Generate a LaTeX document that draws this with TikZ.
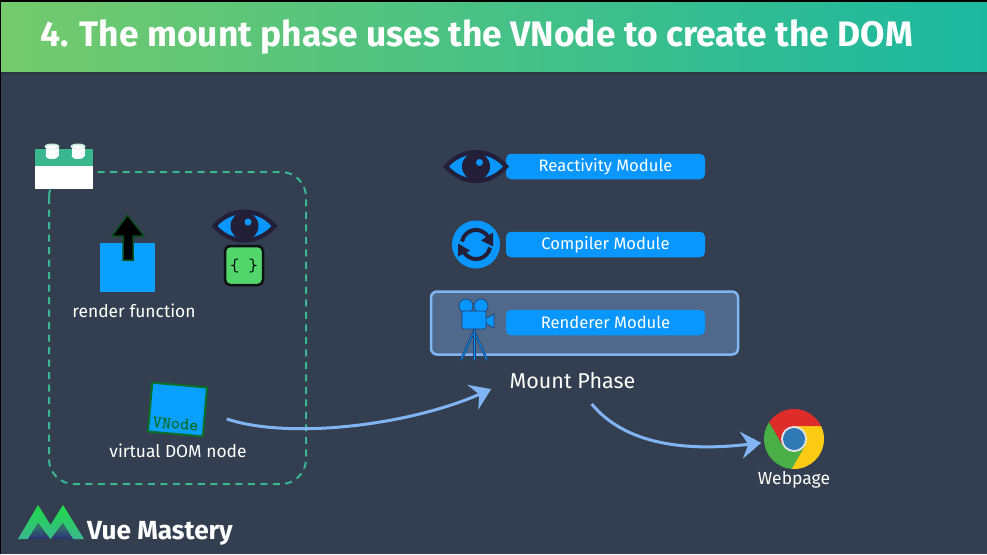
\documentclass[tikz,border=0pt]{standalone}
\usepackage{fontspec}
\setmainfont{Fira Sans}
\usetikzlibrary{positioning,arrows.meta}
\definecolor{slate}{HTML}{333F50}
\definecolor{headleft}{HTML}{74CA6C}
\definecolor{headright}{HTML}{1BB8A0}
\definecolor{blockgreen}{HTML}{3BB78F}
\definecolor{modblue}{HTML}{0A96FF}
\definecolor{inkdark}{HTML}{231F38}
\definecolor{sketchblue}{HTML}{80B4F2}
\definecolor{panelfill}{HTML}{50688A}
\definecolor{leaf}{HTML}{52D66C}
\definecolor{vgreen}{HTML}{0B6F2A}
\definecolor{chromered}{HTML}{DD2C2A}
\definecolor{chromeyellow}{HTML}{FDCB13}
\definecolor{chromegreen}{HTML}{4BAF47}
\definecolor{chromeblue}{HTML}{2F7AB5}

\tikzset{
  eyeicon/.pic={
    \fill[inkdark] (-33,0) .. controls (-15,-22) and (15,-22) .. (33,0) .. controls (15,22) and (-15,22) .. cycle;
    \fill[modblue] (-27,0) .. controls (-12,-16) and (12,-16) .. (27,0) .. controls (12,16) and (-12,16) .. cycle;
    \fill[inkdark] (0,0) circle (14);
    \fill[modblue] (3.5,-4) circle (3.5);
  },
  wedge/.pic={
    \fill (0,0) -- (0,-13) -- (40,-13) -- (40,-60) -- (-60,-60) -- (-36.3,-36.8) -- (-11.26,6.5) -- cycle;
  }
}

\begin{document}
\begin{tikzpicture}[
  x=1pt, y=-1pt,
  >={Stealth[length=20pt,width=27pt,inset=7pt]},
  every node/.style={align=center, text=white, inner sep=0pt},
  module/.style={fill=modblue, rounded corners=5pt, minimum width=199pt, minimum height=25.5pt, font=\fontsize{16.6}{18}\selectfont},
  caption/.style={font=\fontsize{17.4}{20}\selectfont},
  flow/.style={->, draw=sketchblue, line width=3pt},
  vnodebox/.style={draw=vgreen, line width=2pt, fill=modblue!90!cyan, minimum width=55pt, minimum height=49pt, rotate=-5}
]
\useasboundingbox (0,0) rectangle (987,554);
\fill[slate] (0,0) rectangle (987,554);
\fill[black] (0,0) rectangle (987,2);
\fill[black] (0,0) rectangle (1,554);

% header
\fill[black!15!slate] (1,71) rectangle (987,74);
\shade[left color=headleft, right color=headright] (1,2) rectangle (987,71);
\node[font=\fontsize{35.4}{40}\selectfont\bfseries] (title) at (476.5,37) {4. The mount phase uses the VNode to create the DOM};

% component box
\draw[blockgreen, line width=2pt, dash pattern=on 7pt off 5.5pt, rounded corners=25pt] (49,172) rectangle (306,484);
\fill[white] (35,166) rectangle (93,189);
\fill[blockgreen] (35,149) rectangle (93,166);
\foreach \sx in {52,78} {
  \fill[white] (\sx-6.5,147) rectangle (\sx+6.5,156);
  \fill[white] (\sx,156) ellipse (6.5 and 3);
  \fill[white!70!blockgreen] (\sx,146.5) ellipse (7.5 and 3);
  \fill[white] (\sx,147) ellipse (6 and 1.8);
}

% render function
\fill[modblue!90!cyan] (100,243) rectangle (155,292);
\draw[vgreen!70!black, fill=black, line width=1.5pt, line join=miter] (127.5,215) -- (144,236) -- (133,236) -- (133,260) -- (123,260) -- (123,236) -- (112,236) -- cycle;
\node[caption] (render) at (134,311) {render function};

% watcher
\pic at (244.5,226) {eyeicon};
\node[draw=black!75!slate, line width=2.5pt, fill=leaf, rounded corners=5pt, minimum width=38pt, minimum height=39pt, text=black, font=\ttfamily\fontsize{18}{18}\selectfont] (effect) at (244,265.5) {\{ \}};

% vnode
\node[vnodebox] (vnode) at (177.5,409.5) {};
\node[rotate=-5, text=vgreen, font=\ttfamily\bfseries\fontsize{17.5}{17.5}\selectfont] (vnodetag) at (175.7,424) {VNode};
\node[caption] (vdom) at (178,451) {virtual DOM node};

% modules
\draw[sketchblue, line width=2.5pt, fill=panelfill, rounded corners=6pt] (431,291.5) rectangle (738,354.5);
\node[module] (reactivity) at (605.5,166.5) {Reactivity Module};
\node[module] (compiler) at (605.5,244.5) {Compiler Module};
\node[module] (renderer) at (605.5,322.5) {Renderer Module};
\pic at (476,166.5) {eyeicon};

% sync icon
\begin{scope}[shift={(476,244.5)}]
  \fill[modblue] (0,0) circle (24);
  \draw[inkdark, line width=4pt] (-14,-3) .. controls (-12,-14) and (3,-20) .. (12,-8);
  \draw[inkdark, line width=4pt] (14,3) .. controls (12,14) and (-3,20) .. (-12,8);
  \fill[inkdark] (17,-12) -- (17,2) -- (5,-4) -- cycle;
  \fill[inkdark] (-18,-1) -- (-18,12) -- (-6,6) -- cycle;
\end{scope}

% camera
\begin{scope}[draw=inkdark!70!modblue, line width=.7pt]
  \filldraw[fill=modblue] (474,329) -- (460,360) -- (462,360) -- (474,333) -- (486,360) -- (488,360) -- cycle;
  \filldraw[fill=modblue] (473,329) rectangle (475,360);
  \filldraw[fill=modblue] (466,306) circle (7);
  \filldraw[fill=modblue] (481,306) circle (7);
  \filldraw[fill=modblue] (494,314) -- (485,319) -- (485,323) -- (494,328) -- cycle;
  \filldraw[fill=modblue, rounded corners=2pt] (462,311) rectangle (486,329);
\end{scope}

\node[font=\fontsize{21.5}{24}\selectfont] (mount) at (572.5,381) {Mount Phase};

% chrome
\begin{scope}[shift={(794,439)}]
  \begin{scope}
    \clip (0,0) circle (30);
    \pic[fill=chromegreen] at (0,0) [rotate=120] {wedge};
    \pic[fill=chromeyellow] at (0,0) [rotate=-120] {wedge};
    \pic[fill=chromered] at (0,0) {wedge};
  \end{scope}
  \fill[white!85!slate] (0,0) circle (13);
  \fill[chromeblue] (0,0) circle (11);
\end{scope}
\node[circle, minimum size=60pt] (chrome) at (794,439) {};
\node[font=\fontsize{17.5}{18}\selectfont] (webpage) at (794,480) {Webpage};

\draw[flow, shorten <=22pt, shorten >=20pt] (vnode.east) .. controls (290,440) and (410,425) .. (mount.west);
\draw[flow, shorten <=30pt, shorten >=33pt] (mount.center) .. controls (630,450) and (700,450) .. (chrome.center);

% logo
\shade[top color=green!50!blockgreen, bottom color=blockgreen] (18,539) -- (38,505) -- (50.5,525) -- (63,505) -- (84,539) -- (73,539) -- (63,523) -- (50.5,539) -- (38,523) -- (28,539) -- cycle;
\shade[top color=blockgreen!50!slate, bottom color=blue!20!slate] (38,524) -- (28,539) -- (49,539) -- cycle;
\shade[top color=blockgreen!50!slate, bottom color=blue!20!slate] (63,524) -- (52,539) -- (73,539) -- cycle;
\node[font=\fontsize{26.2}{28}\selectfont\bfseries, anchor=west] (brand) at (87,533) {Vue Mastery};
\end{tikzpicture}
\end{document}
